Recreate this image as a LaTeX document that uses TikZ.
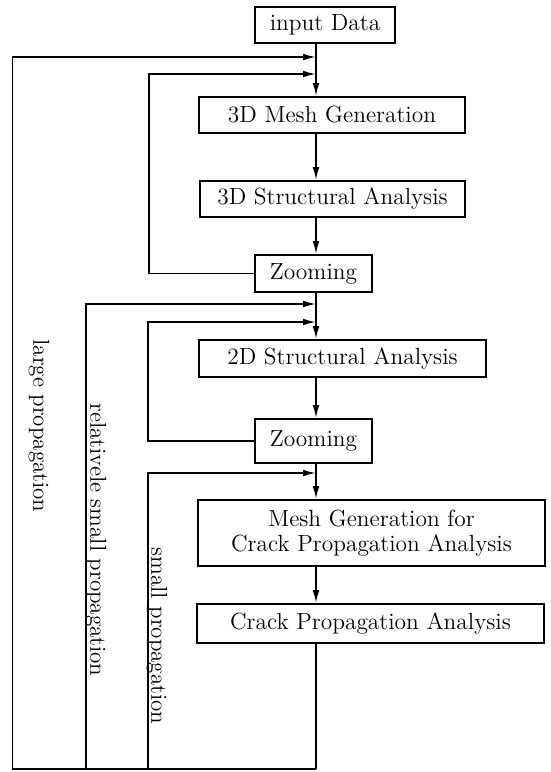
\documentclass[tikz,border=0pt]{standalone}
\usepackage{amsmath, amssymb}
\usetikzlibrary{arrows.meta}

\begin{document}
\begin{tikzpicture}[x=0.5pt, y=-0.5pt,
		block/.style={draw, line width=0.9pt, inner sep=0pt, align=center, font=\fontsize{11.7}{12.5}\selectfont},
		flow/.style={line width=0.9pt, -{Latex[length=6.5pt,width=3.4pt]}},
		wire/.style={line width=0.9pt},
		tag/.style={rotate=-90, inner sep=0pt, font=\fontsize{11.5}{12.5}\selectfont}]
			\useasboundingbox (0,0) rectangle (551,772);

			% Main column of steps
			\node[block, minimum width=70pt, minimum height=18pt] (input) at (325,25) {input Data};
			\node[block, minimum width=133pt, minimum height=18pt] (mesh3d) at (332,115) {3D Mesh Generation};
			\node[block, minimum width=132.5pt, minimum height=18pt] (struct3d) at (332.5,199) {3D Structural Analysis};
			\node[block, minimum width=58.5pt, minimum height=18.5pt] (zoomA) at (313.5,273.5) {Zooming};
			\node[block, minimum width=143.5pt, minimum height=18.5pt] (struct2d) at (342.5,358.5) {2D Structural Analysis};
			\node[block, minimum width=58.5pt, minimum height=22pt] (zoomB) at (313.5,441) {Zooming};
			\node[block, minimum width=173.5pt, minimum height=33pt] (meshcrack) at (371.5,533) {Mesh Generation for\\Crack Propagation Analysis};
			\node[block, minimum width=173.5pt, minimum height=19.5pt] (crack) at (370.5,623.5) {Crack Propagation Analysis};

			% Points on the main line
			\coordinate (spine) at (316,0);
			\coordinate (joinA) at (316,57);
			\coordinate (joinB) at (316,74);
			\coordinate (joinC) at (316,304);
			\coordinate (joinD) at (316,322);
			\coordinate (joinE) at (316,473);
			\coordinate (bottom) at (316,769);

			% Main flow
			\draw[flow] (input.south -| spine) -- (mesh3d.north -| spine);
			\draw[flow] (mesh3d.south -| spine) -- (struct3d.north -| spine);
			\draw[flow] (struct3d.south -| spine) -- (zoomA.north -| spine);
			\draw[flow] (zoomA.south -| spine) -- (struct2d.north -| spine);
			\draw[flow] (struct2d.south -| spine) -- (zoomB.north -| spine);
			\draw[flow] (zoomB.south -| spine) -- (meshcrack.north -| spine);
			\draw[flow] (meshcrack.south -| spine) -- (crack.north -| spine);
			\draw[wire] (crack.south -| spine) -- (bottom);

			% Zooming loops
			\draw[flow] (zoomA.west) -| (149,74) -- (joinB);
			\draw[flow] (zoomB.west) -| (148,322) -- (joinD);

			% Propagation loops
			\draw[flow] (bottom) -| (12.5,57) -- (joinA);
			\draw[flow] (86,769) |- (joinC);
			\draw[flow] (148,769) |- (joinE);

			% Labels of the loops
			\node[tag] (lblLarge) at (39,426) {large propagation};
			\node[tag] (lblRel) at (96,540) {relativele small propagation};
			\node[tag] (lblSmall) at (157,636) {small propagation};
		\end{tikzpicture}
\end{document}
